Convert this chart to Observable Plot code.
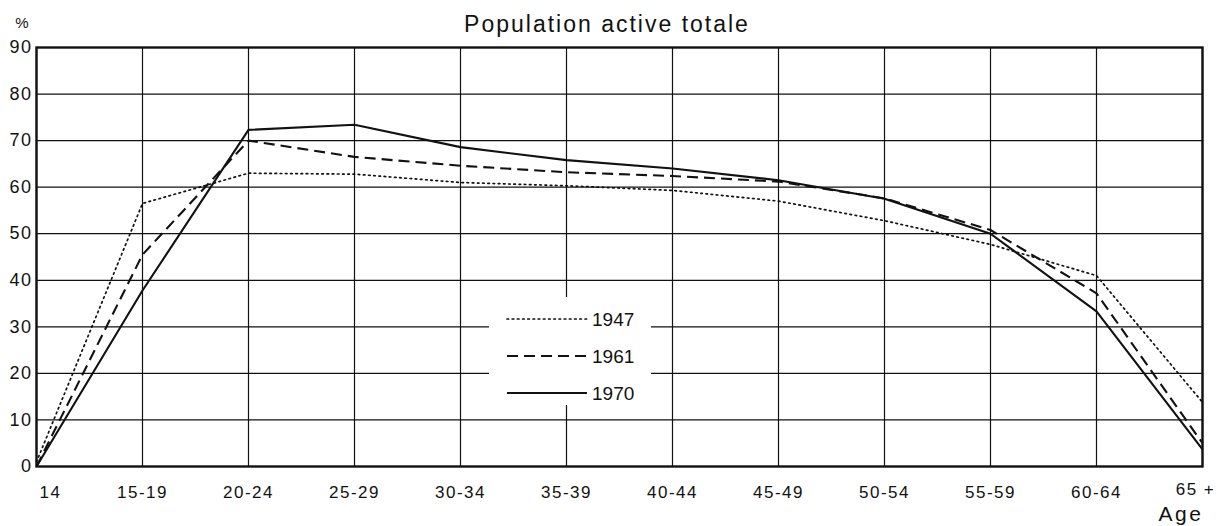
<!DOCTYPE html>
<html>
<head>
<meta charset="utf-8">
<script src="https://cdn.jsdelivr.net/npm/d3@7"></script>
<script src="https://cdn.jsdelivr.net/npm/@observablehq/plot@0.6"></script>
<style>
  body { margin: 0; background: #fff; }
  #chart { position: relative; width: 1220px; height: 526px; }
  svg { font-family: "Liberation Sans", Arial, sans-serif; }
</style>
</head>
<body>
<div id="chart"></div>
<script>
const ages = ["14", "15-19", "20-24", "25-29", "30-34", "35-39", "40-44", "45-49", "50-54", "55-59", "60-64", "65 +"];
const v1947 = [1, 56.5, 63, 62.8, 61, 60.3, 59.3, 57, 52.8, 47.7, 41, 13.8];
const v1961 = [0, 45.5, 70, 66.5, 64.6, 63.2, 62.4, 61.2, 57.6, 50.8, 37.2, 5];
const v1970 = [0, 37.8, 72.3, 73.4, 68.6, 65.8, 64, 61.5, 57.5, 50, 33.3, 3.7];
const years = ["1947", "1961", "1970"];
const yTicks = [0, 10, 20, 30, 40, 50, 60, 70, 80, 90];
const titleText = "Population active totale";
const yUnit = "%";
const xLabel = "Age";

const series = [v1947, v1961, v1970];
const data = [];
series.forEach((vals, s) => vals.forEach((v, i) => data.push({age: ages[i], value: v, year: years[s]})));

const styles = {
  "1947": {strokeWidth: 1.7, strokeDasharray: "1.6,3.6"},
  "1961": {strokeWidth: 2.1, strokeDasharray: "11,6"},
  "1970": {strokeWidth: 2.1, strokeDasharray: null}
};

const W = 1220, H = 526;
const plot = Plot.plot({
  width: W,
  height: H,
  marginLeft: 36,
  marginRight: 18,
  marginTop: 47,
  marginBottom: 60,
  style: {fontSize: "17px", fontFamily: "Liberation Sans, Arial, sans-serif", color: "#111"},
  x: {type: "point", domain: ages, padding: 0, label: null},
  y: {domain: [0, 90], ticks: yTicks, label: null},
  marks: [
    Plot.gridX(ages, {stroke: "#111", strokeOpacity: 1, strokeWidth: 1.2}),
    Plot.gridY(yTicks, {stroke: "#111", strokeOpacity: 1, strokeWidth: 1.2}),
    Plot.axisY(yTicks, {tickSize: 0, tickPadding: 4, fontSize: 18, fill: "#111"}),
    Plot.axisX(ages.slice(1, -1), {tickSize: 0, tickPadding: 19, fontSize: 17, fill: "#111"}),
    Plot.axisX([ages[0]], {tickSize: 0, tickPadding: 19, fontSize: 17, fill: "#111", dx: 14}),
    Plot.axisX([ages[ages.length - 1]], {tickSize: 0, tickPadding: 16, fontSize: 17, fill: "#111", dx: -7}),
    ...years.map(y => Plot.line(data.filter(d => d.year === y), {
      x: "age", y: "value", stroke: "#111",
      strokeWidth: styles[y].strokeWidth,
      strokeDasharray: styles[y].strokeDasharray,
      strokeLinejoin: "round", strokeLinecap: y === "1947" ? "round" : "butt"
    })),
    Plot.frame({stroke: "#111", strokeWidth: 2.4})
  ]
});

document.getElementById("chart").appendChild(plot);
const svg = d3.select(plot);
svg.selectAll("[aria-label^='x-axis tick label'] text, [aria-label^='y-axis tick label'] text")
  .attr("letter-spacing", "1.5px");

// title, unit and axis label
svg.append("text").attr("x", 607).attr("y", 32).attr("text-anchor", "middle")
  .attr("font-size", 23).attr("letter-spacing", "2px").attr("fill", "#111").text(titleText);
svg.append("text").attr("x", 22).attr("y", 28).attr("text-anchor", "middle")
  .attr("font-size", 15).attr("fill", "#111").text(yUnit);
svg.append("text").attr("x", 1181).attr("y", 521).attr("text-anchor", "middle")
  .attr("font-size", 21).attr("letter-spacing", "2.5px").attr("fill", "#111").text(xLabel);

// legend with white backing
const lg = svg.append("g");
lg.append("rect").attr("x", 489).attr("y", 297).attr("width", 162).attr("height", 108).attr("fill", "#fff");
years.forEach((y, i) => {
  const cy = 319 + i * 37;
  lg.append("line").attr("x1", 507).attr("x2", 587).attr("y1", cy).attr("y2", cy)
    .attr("stroke", "#111").attr("stroke-width", styles[y].strokeWidth)
    .attr("stroke-dasharray", styles[y].strokeDasharray)
    .attr("stroke-linecap", y === "1947" ? "round" : "butt");
  lg.append("text").attr("x", 592).attr("y", cy + 7).attr("text-anchor", "start")
    .attr("font-size", 19).attr("fill", "#111").text(y);
});
</script>
</body>
</html>
